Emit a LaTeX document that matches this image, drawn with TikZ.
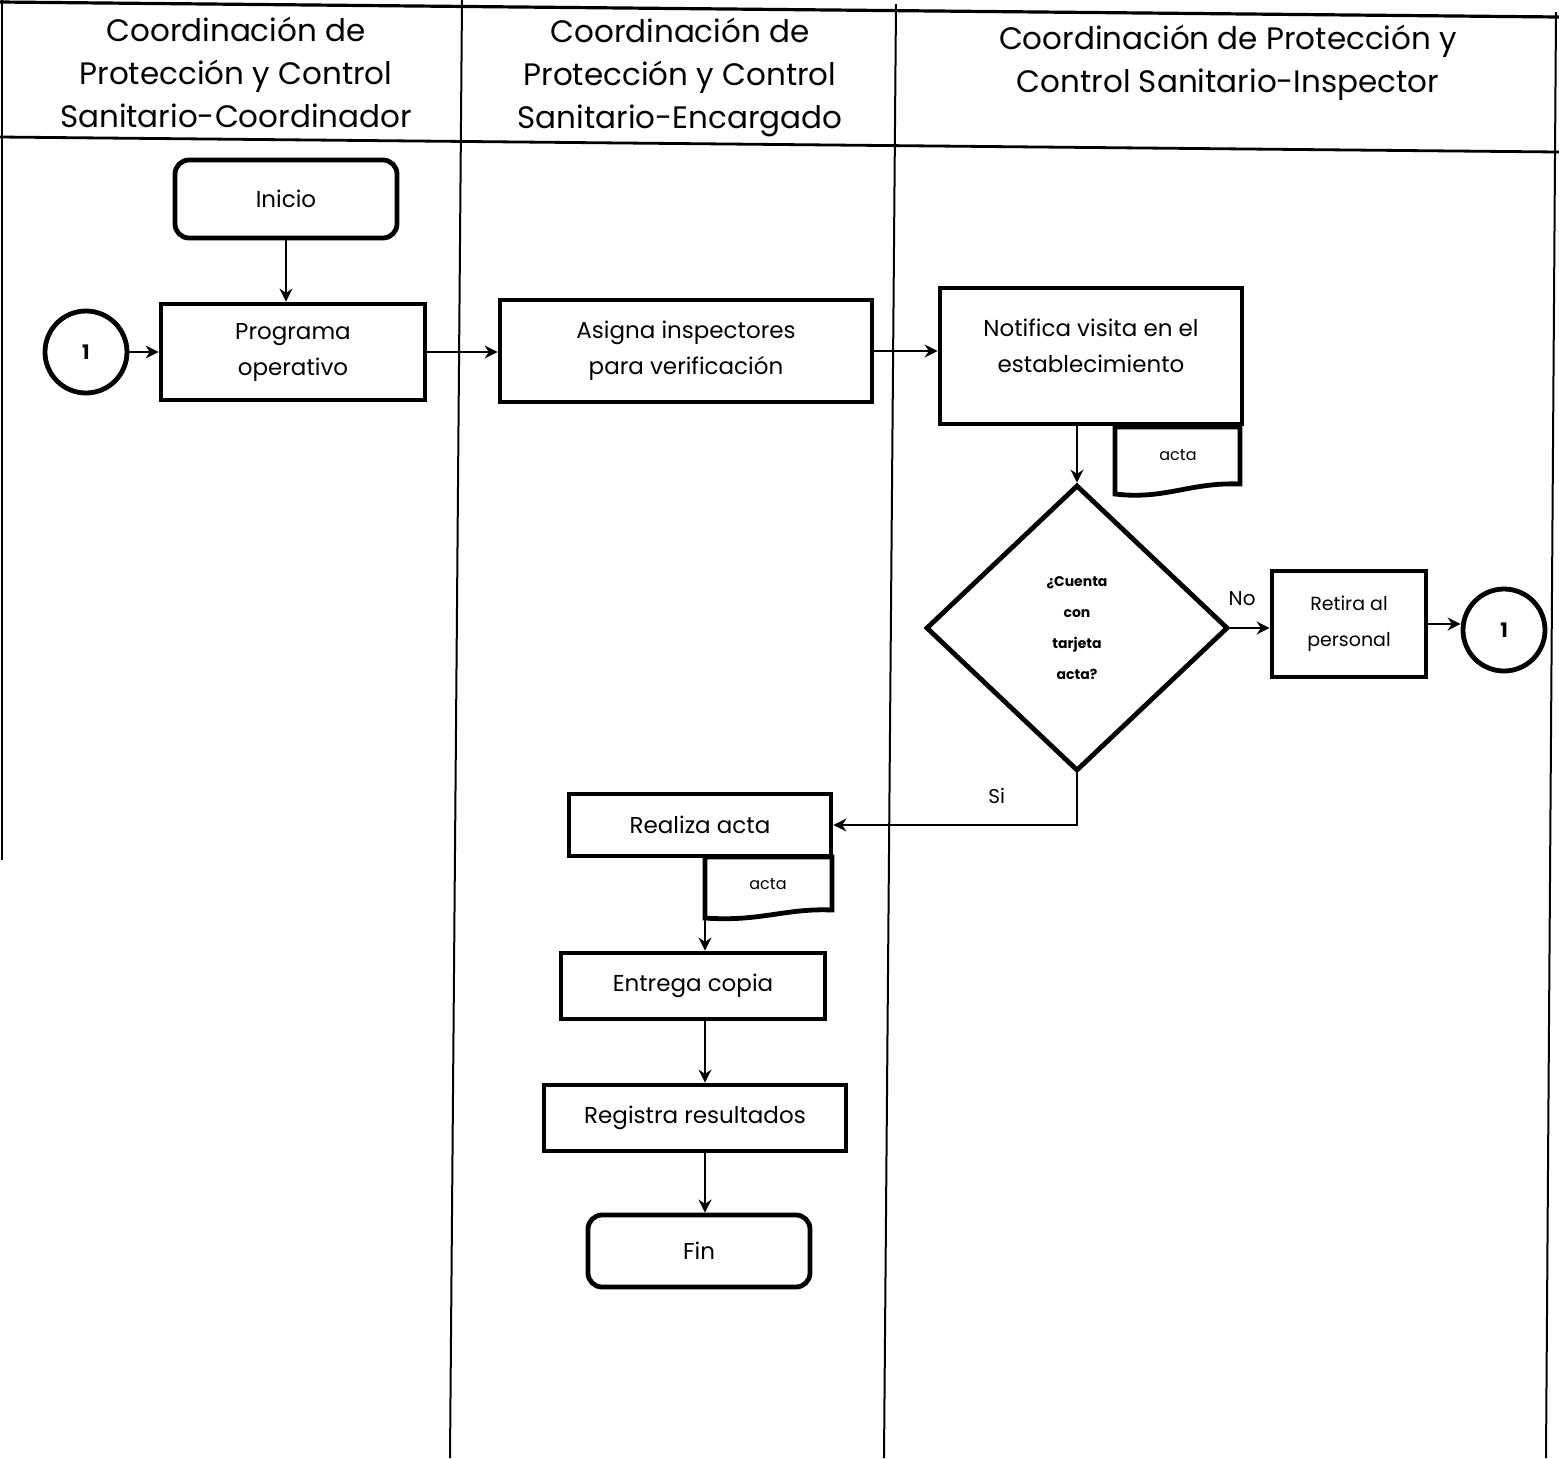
\documentclass[tikz,border=0pt]{standalone}
\usepackage{fontspec}
\setmainfont{Poppins}
\usetikzlibrary{shapes.geometric,arrows.meta}

\tikzset{
  box/.style={draw, line width=2.4pt, rectangle, align=center, inner sep=2pt,
              font=\fontsize{11.5}{18}\selectfont},
  term/.style={box, rounded corners=7pt},
  conn/.style={line width=1.2pt, -{Stealth[length=6.5pt,width=6.5pt]}},
  lane/.style={line width=1pt},
  circ/.style={draw, circle, line width=2.4pt, minimum size=41pt, inner sep=0pt,
               font=\fontsize{10}{10}\selectfont\bfseries},
  doc/.style={draw, line width=2.4pt, fill=white},
  head/.style={align=center, font=\fontsize{15.5}{21.5}\selectfont},
  small/.style={font=\fontsize{8}{9}\selectfont},
  lbl/.style={font=\fontsize{10}{12}\selectfont}
}

\begin{document}
\begin{tikzpicture}[x=0.5pt, y=-0.5pt]
  \useasboundingbox (0,0) rectangle (1559,1458);

  % swimlane frame
  \draw[lane, line width=1.6pt] (0,2) -- (1559,17);
  \draw[lane, line width=1.4pt] (0,137) -- (1559,152);
  \draw[lane] (2,0) -- (2,860);
  \draw[lane] (462,0) -- (450,1458);
  \draw[lane] (896,4) -- (884,1458);
  \draw[lane] (1556,12) -- (1546,1458);

  % lane headings
  \node[head] (h1) at (236,72) {Coordinación de\\Protección y Control\\Sanitario-Coordinador};
  \node[head] (h2) at (680,77) {Coordinación de\\Protección y Control\\Sanitario-Encargado};
  \node[head] (h3) at (1228,63) {Coordinación de Protección y\\Control Sanitario-Inspector};

  % process steps
  \node[term, minimum width=111pt, minimum height=39pt] (inicio) at (286,199) {Inicio};
  \node[box, minimum width=132pt, minimum height=48pt] (prog) at (293,352) {Programa\\operativo};
  \node[circ] (c1) at (86,352) {1};
  \node[box, minimum width=186pt, minimum height=51pt] (asigna) at (686,351) {Asigna inspectores\\para verificación};
  \node[box, minimum width=151pt, minimum height=68pt] (notif) at (1091,356) {Notifica visita en el\\establecimiento\\[-8pt]\mbox{}};

  % document attached to the notification
  \draw[doc] (1115,427) -- (1240,427) -- (1240,484)
     .. controls (1190,482) and (1165,500) .. (1115,494) -- cycle;
  \node[small] (actaA) at (1178,455) {acta};

  % decision
  \node[draw, diamond, line width=2.4pt, minimum width=151pt, minimum height=143pt,
        inner sep=0pt, align=center, font=\fontsize{7}{15.5}\selectfont\bfseries] (dec) at (1077,628)
        {¿Cuenta\\con\\tarjeta\\acta?};

  \node[box, minimum width=77pt, minimum height=53pt, font=\fontsize{9.5}{18}\selectfont] (retira) at (1349,624) {Retira al\\personal};
  \node[circ] (c2) at (1504,630) {1};

  \node[box, minimum width=131pt, minimum height=31pt] (realiza) at (700,825) {Realiza acta};
  \draw[doc] (705,857) -- (832,857) -- (832,910)
     .. controls (785,908) and (760,922) .. (705,918) -- cycle;
  \node[small] (actaB) at (768,884) {acta};

  \node[box, minimum width=132pt, minimum height=33pt] (entrega) at (693,986) {Entrega copia};
  \node[box, minimum width=151pt, minimum height=33pt] (registra) at (695,1118) {Registra resultados};
  \node[term, minimum width=111pt, minimum height=36pt] (fin) at (699,1251) {Fin};

  % connectors
  \coordinate (colx) at (705,0);
  \draw[conn] (inicio.south) -- (inicio.south |- prog.north);
  \draw[conn] (c1.east) -- (c1.east -| prog.west);
  \draw[conn] (prog.east) -- (prog.east -| asigna.west);
  \draw[conn] (asigna.east) -- (asigna.east -| notif.west);
  \draw[conn] (notif.south -| dec.north) -- (dec.north);
  \draw[conn] (dec.east) -- (dec.east -| retira.west)
     node[pos=0.3, above=7pt, lbl] (lno) {No};
  \draw[conn] (retira.east) -- (retira.east -| c2.west);
  \draw[conn] (dec.south) |- (realiza.east)
     node[pos=0.22, left=32pt, lbl] (lsi) {Si};
  \draw[conn] (realiza.south -| colx) -- (entrega.north -| colx);
  \draw[conn] (entrega.south -| colx) -- (registra.north -| colx);
  \draw[conn] (registra.south -| colx) -- (fin.north -| colx);
\end{tikzpicture}
\end{document}
